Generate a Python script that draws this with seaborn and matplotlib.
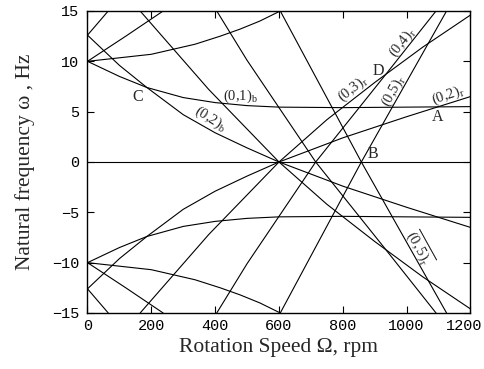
import numpy as np
import pandas as pd
import matplotlib
matplotlib.use("Agg")
import matplotlib.pyplot as plt
import matplotlib.transforms as mtransforms
import seaborn as sns

# Campbell diagram: rotation speed (rpm) vs natural frequency (Hz).
f1_rot_speed = [0, 200, 337, 416, 478, 540, 604]
f1_rot_freq = [10, 10.7, 11.7, 12.5, 13.2, 14.0, 15]

b01_speed = [0, 100, 186, 300, 400, 500, 600, 800, 1000, 1200]
b01_freq = [10, 8.5, 7.4, 6.4, 5.9, 5.6, 5.45, 5.4, 5.45, 5.5]

f01_speed = [0, 120, 237]
f01_freq = [10, 12.5, 15]

f02_speed = [0, 65]
f02_freq = [12.6, 15]

b02_speed = [0, 100, 186, 300, 400, 500, 600]
b02_freq = [12.6, 9.6, 7.4, 4.7, 2.9, 1.4, 0]

r02_speed = [600, 800, 1000, 1200]
r02_freq = [0, 2.4, 4.5, 6.5]

b03_speed = [165, 380, 600]
b03_freq = [15, 7.2, 0]

r03_speed = [600, 750, 900, 1050, 1200]
r03_freq = [0, 4.2, 7.9, 11.4, 14.6]

m04_speed = [405, 500, 600, 715, 937, 1092]
m04_freq = [15, 10.1, 5.4, 0, -8.8, -15]

m05_speed = [604, 858, 1125]
m05_freq = [15, 0, -15]

zero_speed = [0, 1200]
zero_freq = [0, 0]

curves = {
    "f1": (f1_rot_speed, f1_rot_freq),
    "b01": (b01_speed, b01_freq),
    "f01": (f01_speed, f01_freq),
    "f02": (f02_speed, f02_freq),
    "b02": (b02_speed, b02_freq),
    "r02": (r02_speed, r02_freq),
    "b03": (b03_speed, b03_freq),
    "r03": (r03_speed, r03_freq),
    "m04": (m04_speed, m04_freq),
    "m05": (m05_speed, m05_freq),
}

rows = []
for name, (spd, frq) in curves.items():
    for sign in (1, -1):
        for s, f in zip(spd, frq):
            rows.append({"unit": f"{name}{sign}", "speed": s, "freq": sign * f})
for s, f in zip(zero_speed, zero_freq):
    rows.append({"unit": "zero", "speed": s, "freq": f})
df = pd.DataFrame(rows)

sns.set_style("ticks")
plt.rcParams["font.family"] = ["Liberation Serif", "DejaVu Serif"]
plt.rcParams["mathtext.fontset"] = "custom"
plt.rcParams["mathtext.rm"] = "Liberation Serif"
plt.rcParams["mathtext.it"] = "Liberation Serif:italic"

fig = plt.figure(figsize=(4.85, 3.69), dpi=100)
ax = fig.add_axes([0.1804, 0.1518, 0.7897, 0.8184])

sns.lineplot(data=df, x="speed", y="freq", units="unit", estimator=None,
             sort=False, color="black", linewidth=0.8, legend=False, ax=ax)

ax.set_xlim(0, 1200)
ax.set_ylim(-15, 15)
ax.set_xticks(np.arange(0, 1201, 200))
ax.set_yticks(np.arange(-15, 16, 5))
ax.tick_params(direction="in", top=True, right=True, length=5, width=0.8,
               labelsize=11, colors="black")
ax.tick_params(axis="x", pad=4)
ax.tick_params(axis="y", pad=6)
for lab in ax.get_xticklabels() + ax.get_yticklabels():
    lab.set_fontfamily("Liberation Mono")
# last x label sits slightly left of its tick, as in the original
last = ax.get_xticklabels()[-1]
last.set_transform(last.get_transform() +
                   mtransforms.ScaledTranslation(-6 / 100, 0, fig.dpi_scale_trans))
for sp in ax.spines.values():
    sp.set_linewidth(1.0)
    sp.set_color("black")

ax.set_xlabel("Rotation Speed Ω, rpm", fontsize=15.5, labelpad=4)
ax.set_ylabel("Natural frequency ω , Hz", fontsize=15.5, labelpad=12)

lab_kw = dict(fontsize=10.5, ha="center", va="center")
ax.text(478, 6.5, r"(0,1)$_\mathrm{b}$", **lab_kw)
ax.text(384, 4.3, r"(0,2)$_\mathrm{b}$", rotation=-32, **lab_kw)
ax.text(830, 7.3, r"(0,3)$_\mathrm{r}$", rotation=38, **lab_kw)
ax.text(988, 11.9, r"(0,4)$_\mathrm{r}$", rotation=52, **lab_kw)
ax.text(960, 7.0, r"(0,5)$_\mathrm{r}$", rotation=61, **lab_kw)
ax.text(1131, 6.6, r"(0,2)$_\mathrm{r}$", rotation=19, **lab_kw)
ax.text(1040, -8.5, r"$\overline{\mathrm{(0,5)}_\mathrm{r}}$", rotation=-61, **lab_kw)
ax.text(156, 6.5, "C", fontsize=11.5, ha="center", va="center")
ax.text(912, 9.0, "D", fontsize=11.5, ha="center", va="center")
ax.text(1096, 4.5, "A", fontsize=11.5, ha="center", va="center")
ax.text(893, 0.8, "B", fontsize=11.5, ha="center", va="center")

fig.savefig("out.png", dpi=100)
